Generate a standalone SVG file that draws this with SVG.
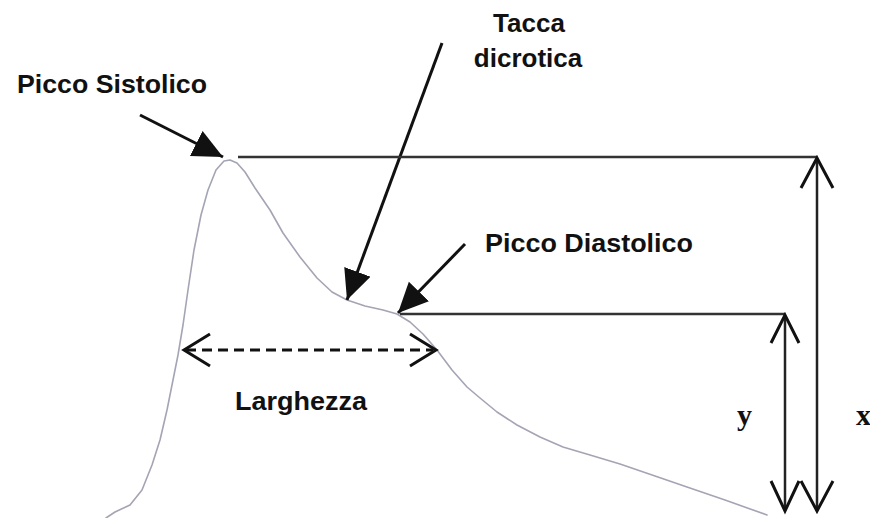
<svg xmlns="http://www.w3.org/2000/svg" width="870" height="518" viewBox="0 0 870 518">
  <style>
    .lbl { font-family: "Liberation Sans", Arial, sans-serif; font-weight: bold; font-size: 26px; fill: #111; }
    .var { font-family: "Liberation Serif", "Times New Roman", serif; font-weight: bold; font-size: 30px; fill: #111; }
    .ptr { stroke: #111; stroke-width: 3; fill: none; }
    .ref { stroke: #333; stroke-width: 2.5; fill: none; }
    .dim { stroke: #222; stroke-width: 2.5; fill: none; }
    .chev { stroke: #111; stroke-width: 3; fill: none; stroke-linejoin: miter; }
    .wave { stroke: #a4a4b4; stroke-width: 1.6; fill: none; stroke-linejoin: round; stroke-linecap: round; }
  </style>
  <defs>
    <marker id="tri" markerUnits="userSpaceOnUse" markerWidth="32" markerHeight="30" refX="30" refY="14" orient="auto">
      <path d="M0,0 L30,14 L0,28 Z" fill="#111"/>
    </marker>
  </defs>
  <rect width="870" height="518" fill="#ffffff"/>

  <g id="waveform">
    <polyline class="wave" points="106,518 115,512 130,505 142,490 152,465 160,440 167,410 172,385 178,355 183,325 188,290 194,250 201,215 208,190 216,170 224,161 230,160 237,163 245,172 255,188 270,210 283,233 300,257 317,278 332,292 347,300 365,306 383,310 397,314 410,322 423,334 437,350 452,370 467,387 480,398 497,412 517,425 540,437 563,447 590,455 620,464 655,476 687,487 725,500 767,515"/>
  </g>

  <g id="picco-sistolico">
    <text class="lbl" x="17" y="93" textLength="190" lengthAdjust="spacingAndGlyphs">Picco Sistolico</text>
  </g>
  <g id="tacca-dicrotica">
    <text class="lbl" x="529" y="32" text-anchor="middle">Tacca</text>
    <text class="lbl" x="528" y="67" text-anchor="middle">dicrotica</text>
  </g>
  <g id="picco-diastolico">
    <text class="lbl" x="485" y="252" textLength="208" lengthAdjust="spacingAndGlyphs">Picco Diastolico</text>
  </g>
  <g id="larghezza">
    <text class="lbl" x="235" y="410" textLength="132" lengthAdjust="spacingAndGlyphs">Larghezza</text>
  </g>
  <g id="label-y">
    <text class="var" x="737" y="425">y</text>
  </g>
  <g id="label-x">
    <text class="var" x="856" y="425">x</text>
  </g>

  <g id="connectors">
    <line class="ptr" x1="140" y1="115" x2="223" y2="157" marker-end="url(#tri)"/>
    <line class="ptr" x1="442" y1="43" x2="347" y2="300" marker-end="url(#tri)"/>
    <line class="ptr" x1="465" y1="244" x2="398" y2="313" marker-end="url(#tri)"/>

    <line class="ref" x1="238" y1="157" x2="817" y2="157"/>
    <line class="ref" x1="400" y1="314" x2="785" y2="314"/>

    <line class="dim" x1="817" y1="158" x2="817" y2="511"/>
    <polyline class="chev" points="801,188 817,158 833,188"/>
    <polyline class="chev" points="801,481 817,511 833,481"/>

    <line class="dim" x1="785" y1="315" x2="785" y2="511"/>
    <polyline class="chev" points="771,343 785,315 799,343"/>
    <polyline class="chev" points="771,481 785,511 799,481"/>

    <line class="chev" x1="186" y1="350" x2="433" y2="350" stroke-dasharray="10,6"/>
    <polyline class="chev" points="210,334 184,350 210,366"/>
    <polyline class="chev" points="410,334 436,350 410,366"/>
  </g>
</svg>
